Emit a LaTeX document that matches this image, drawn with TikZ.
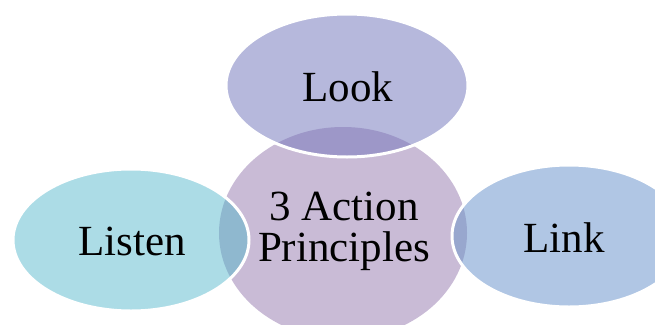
\documentclass[tikz,border=0pt]{standalone}
\usepackage{fontspec}
\setmainfont{Liberation Serif}
\definecolor{cenfill}{HTML}{C9BBD6}
\definecolor{lookfill}{HTML}{B6B8DC}
\definecolor{lookover}{HTML}{9D97C8}
\definecolor{listenfill}{HTML}{ACDCE6}
\definecolor{listenover}{HTML}{8FB8CF}
\definecolor{linkfill}{HTML}{B0C6E4}
\definecolor{linkover}{HTML}{98A7CE}
\tikzset{
  label text/.style={font=\fontsize{43}{41}\selectfont, align=center, text=black, inner sep=0pt},
  rim/.style={draw=white, line width=3pt}
}
\begin{document}
\begin{tikzpicture}[x=1pt,y=-1pt]
  \useasboundingbox (0,0) rectangle (655,324);
  \clip (0,0) rectangle (655,324);
  % ellipse centres
  \coordinate (cc) at (343,233);
  \coordinate (lc) at (347,85.5);
  \coordinate (sc) at (131,240);
  \coordinate (kc) at (569,236);
  % central disc
  \fill[cenfill] (cc) ellipse [x radius=124, y radius=106];
  % Look
  \fill[lookfill] (lc) ellipse [x radius=121, y radius=71.5];
  \begin{scope}
    \clip (lc) ellipse [x radius=121, y radius=71.5];
    \fill[lookover] (cc) ellipse [x radius=124, y radius=106];
  \end{scope}
  \draw[rim] (lc) ellipse [x radius=121, y radius=71.5];
  % Listen
  \fill[listenfill] (sc) ellipse [x radius=118, y radius=71];
  \begin{scope}
    \clip (sc) ellipse [x radius=118, y radius=71];
    \fill[listenover] (cc) ellipse [x radius=124, y radius=106];
  \end{scope}
  \draw[rim] (sc) ellipse [x radius=118, y radius=71];
  % Link
  \fill[linkfill] (kc) ellipse [x radius=117, y radius=71];
  \begin{scope}
    \clip (kc) ellipse [x radius=117, y radius=71];
    \fill[linkover] (cc) ellipse [x radius=124, y radius=106];
  \end{scope}
  \draw[rim] (kc) ellipse [x radius=117, y radius=71];
  % labels
  \node[label text] (look) at (348,87) {Look};
  \node[label text] (listen) at (132,241) {Listen};
  \node[label text] (link) at (564,238) {Link};
  \node[label text] (centre) at (344,231) {3 Action\\Principles};
\end{tikzpicture}
\end{document}
